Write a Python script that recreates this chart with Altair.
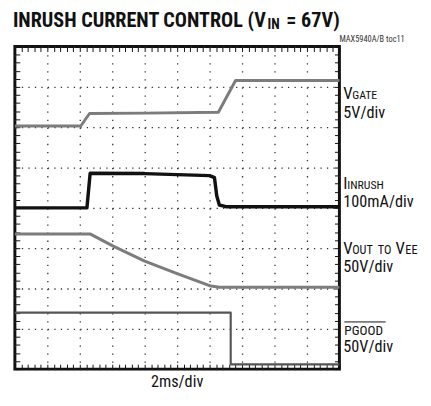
import altair as alt
import pandas as pd

# ---- trace data (time in divisions of 2ms, level in vertical divisions from bottom) ----
T_VGATE = [0, 2.03, 2.30, 4.0, 6.27, 6.80, 10]
V_VGATE = [6.03, 6.03, 6.34, 6.35, 6.37, 7.16, 7.16]

T_IINRUSH = [0, 2.22, 2.32, 4.0, 6.0, 6.15, 6.22, 6.30, 6.5, 10]
V_IINRUSH = [4.0, 4.0, 4.86, 4.85, 4.80, 4.75, 4.30, 4.07, 4.03, 4.03]

T_VOUT = [0, 2.33, 3.03, 4.0, 5.0, 6.0, 6.3, 10]
V_VOUT = [3.35, 3.35, 3.05, 2.68, 2.37, 2.07, 2.03, 2.03]

T_PGOOD = [0, 6.65, 6.65, 10]
V_PGOOD = [1.40, 1.40, 0.12, 0.12]

X_DIVS = list(range(0, 11))
Y_DIVS = list(range(0, 9))
X_MINOR = [round(i * 0.2, 1) for i in range(51)]
Y_MINOR = [round(i * 0.2, 1) for i in range(41)]

rows = []
for name, ts, vs in [("VGATE", T_VGATE, V_VGATE), ("IINRUSH", T_IINRUSH, V_IINRUSH),
                     ("VOUT", T_VOUT, V_VOUT), ("PGOOD", T_PGOOD, V_PGOOD)]:
    for i, (t, v) in enumerate(zip(ts, vs)):
        rows.append({"trace": name, "t": t, "v": v, "i": i})
df = pd.DataFrame(rows)

xs = alt.Scale(domain=[0, 10], nice=False, zero=False)
ys = alt.Scale(domain=[0, 8], nice=False, zero=False)

FONT = "Liberation Sans Narrow, Roboto Condensed, DejaVu Sans Condensed, Arial Narrow, sans-serif"
INK = "#111111"

grid_x = alt.Axis(orient="bottom", values=X_DIVS, grid=True, gridColor="#333333", gridWidth=1.3,
                  gridDash=[1.3, 6.9], ticks=False, labels=False, domain=False, title=None)
grid_y = alt.Axis(orient="left", values=Y_DIVS, grid=True, gridColor="#333333", gridWidth=1.3,
                  gridDash=[1.3, 5.3], ticks=False, labels=False, domain=False, title=None)


def tick_axis(orient, vals):
    return alt.Axis(orient=orient, values=vals, tickSize=5, offset=-5, tickColor=INK, tickWidth=1,
                    labels=False, domain=False, grid=False, title=None)


def trace(name, color, width, xaxis=None, yaxis=None):
    return alt.Chart(df).transform_filter(alt.datum.trace == name).mark_line(
        color=color, strokeWidth=width, strokeJoin="round", strokeCap="butt"
    ).encode(
        x=alt.X("t:Q", scale=xs, axis=xaxis),
        y=alt.Y("v:Q", scale=ys, axis=yaxis),
        order="i:Q",
    )


ONE = alt.Data(values=[{"k": 0}])


def label(text, x, y, size, weight="normal", align="left", color=INK):
    return alt.Chart(ONE).mark_text(
        text=text, align=align, baseline="alphabetic", fontSize=size, fontWeight=weight,
        font=FONT, color=color
    ).encode(x=alt.value(x), y=alt.value(y))


layers = [
    trace("VGATE", "#7c7c7c", 3, grid_x, grid_y),
    trace("IINRUSH", "#111111", 3.5, tick_axis("top", X_MINOR), tick_axis("right", Y_MINOR)),
    trace("VOUT", "#7c7c7c", 3, tick_axis("bottom", X_MINOR), tick_axis("left", Y_MINOR)),
    trace("PGOOD", "#555555", 2.2),
    # title
    label("INRUSH CURRENT CONTROL (V", -2, -20, 20.5, "bold"),
    label("IN", 257, -18, 14, "bold"),
    label("= 67V)", 276, -20, 20.5, "bold"),
    label("MAX5940A/B toc11", 330, -5, 8.5, color="#333333"),
    # right-hand channel labels
    label("V", 334, 53, 17), label("GATE", 343, 53, 12),
    label("5V/div", 334, 73, 16.5),
    label("I", 334, 145, 17), label("INRUSH", 338, 145, 12),
    label("100mA/div", 334, 163, 16.5),
    label("V", 334, 211, 17), label("OUT", 343, 211, 12.5), label("TO", 369, 211, 12.5),
    label("V", 387, 211, 17), label("EE", 397, 211, 12.5),
    label("50V/div", 334, 229, 16.5),
    label("PGOOD", 335, 293, 13.5),
    alt.Chart(ONE).mark_rule(color=INK, strokeWidth=1).encode(
        x=alt.value(335), x2=alt.value(377), y=alt.value(280)),
    label("50V/div", 334, 311, 16.5),
    label("2ms/div", 165, 346, 16.5, align="center"),
]

chart = alt.layer(*layers).resolve_axis(x="independent", y="independent").properties(
    width=330, height=328,
    padding={"left": 7, "top": 36, "right": 85, "bottom": 20},
    autosize=alt.AutoSizeParams(type="none"),
).configure_view(stroke=INK, strokeWidth=3)

chart.save("out.html", embed_options={"renderer": "svg", "actions": False})
